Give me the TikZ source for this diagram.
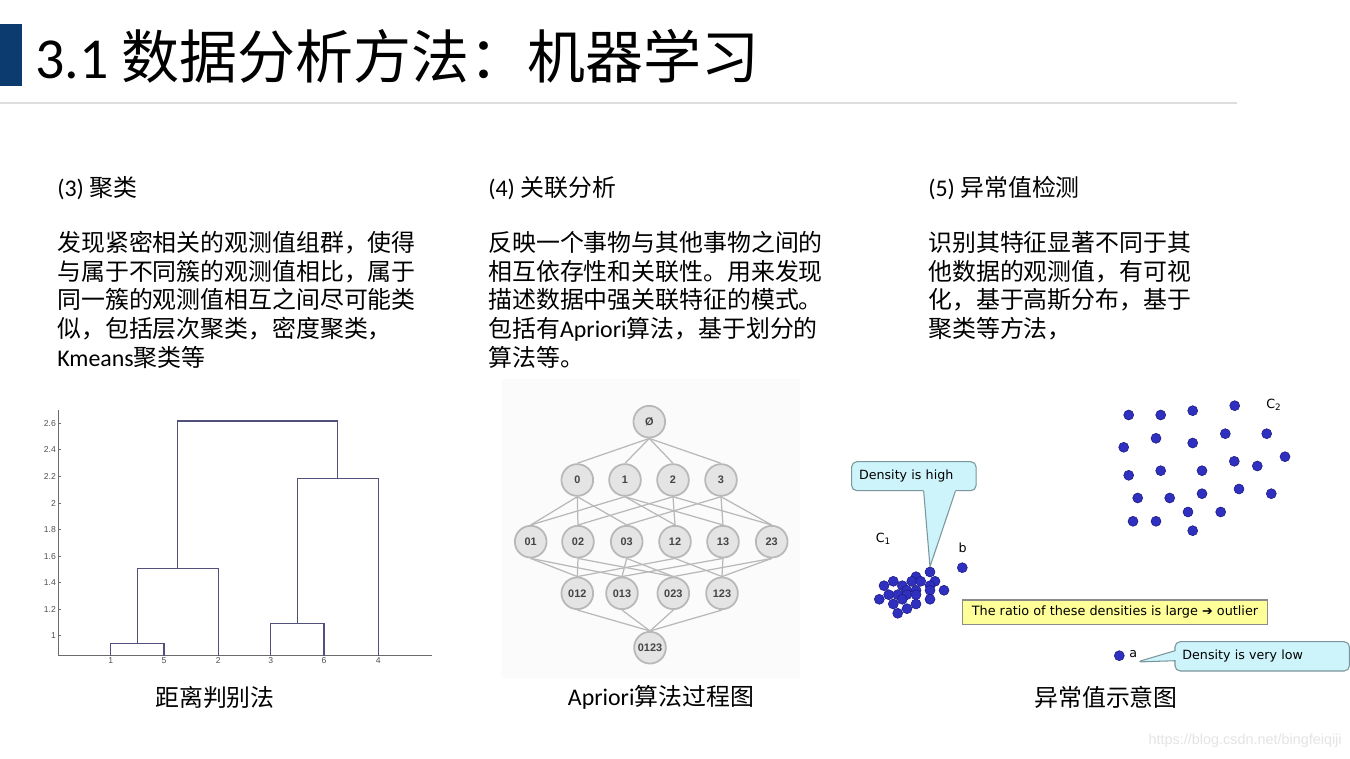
\documentclass[tikz,border=0pt]{standalone}
\usepackage{xcolor}
\usepackage{tikz}
\usepackage{fontspec}
\setmainfont{Noto Sans CJK SC}
\newfontfamily\latfont{Carlito}
\newfontfamily\labfont{DejaVu Sans}
\newfontfamily\axfont{Liberation Sans}
\usetikzlibrary{shapes.callouts}
\definecolor{TitleBar}   {HTML}{0B3B6F}
\definecolor{RuleGray}   {HTML}{DDDDDD}
\definecolor{TreeLine}   {HTML}{50507A}
\definecolor{AxisGray}   {HTML}{6A6A6A}
\definecolor{TickText}   {HTML}{505050}
\definecolor{SetFill}    {HTML}{E4E4E4}
\definecolor{SetEdge}    {HTML}{B8B8B8}
\definecolor{SetText}    {HTML}{444444}
\definecolor{LatticeBG}  {HTML}{FBFBFB}
\definecolor{DotBlue}    {HTML}{3030C0}
\definecolor{DotEdge}    {HTML}{1A1A80}
\definecolor{CallCyan}   {HTML}{CCF4FA}
\definecolor{CallEdge}   {HTML}{7A969C}
\definecolor{NoteYellow} {HTML}{FFFF99}
\definecolor{NoteEdge}   {HTML}{8C8C8C}
\definecolor{MarkGray}   {HTML}{E4E4E4}

\tikzset{
  bodytext/.style={anchor=north west,inner sep=0,align=left,
    font=\fontsize{13.6}{16.3}\selectfont},
  headtext/.style={anchor=west,inner sep=0,font=\fontsize{13.6}{16.3}\selectfont},
  captext/.style={inner sep=0,font=\fontsize{13.6}{16.3}\selectfont},
  treeline/.style={draw=TreeLine,line width=0.7pt},
  axisline/.style={draw=AxisGray,line width=0.5pt},
  ticklabel/.style={inner sep=1pt,text=TickText,font=\axfont\fontsize{4.9}{5}\selectfont},
  setnode/.style={circle,fill=SetFill,draw=SetEdge,line width=1pt,inner sep=0,
    minimum size=0.634cm,text=SetText,font=\axfont\bfseries\fontsize{6.2}{7}\selectfont},
  setedge/.style={draw=SetEdge,line width=0.7pt},
  dot/.style={circle,fill=DotBlue,draw=DotEdge,line width=0.3pt,inner sep=0,minimum size=0.2cm},
  ptlabel/.style={inner sep=0,font=\labfont\fontsize{7.2}{8}\selectfont},
  boxtext/.style={rounded corners=3pt,fill=CallCyan,draw=CallEdge,
    line width=0.6pt,inner xsep=0.15cm,inner ysep=0,align=left,
    font=\labfont\fontsize{7.2}{8}\selectfont},
  callbox/.style={rectangle callout,boxtext},
  notebox/.style={rectangle,fill=NoteYellow,draw=NoteEdge,line width=0.6pt,inner sep=0,
    font=\labfont\fontsize{7.3}{8}\selectfont}
}

\begin{document}
\begin{tikzpicture}[x=0.02cm,y=-0.02cm]
  \useasboundingbox[fill=white] (0,0) rectangle (1350,759);

  % title
  \fill[TitleBar] (0,24) rectangle (22,86);
  \node[anchor=west,inner sep=0,font=\fontsize{33}{40}\selectfont] (title) at (35,56)
    {{\latfont 3.1 }数据分析方法：机器学习};
  \draw[RuleGray,line width=0.8pt] (0,103) -- (1237,103);

  % three columns of text
  \node[headtext] (headA) at (57,188) {{\latfont (3) }聚类};
  \node[headtext] (headB) at (488,188) {{\latfont (4) }关联分析};
  \node[headtext] (headC) at (928,188) {{\latfont (5) }异常值检测};

  \node[bodytext] (textA) at (57,231) {%
    发现紧密相关的观测值组群，使得\\
    与属于不同簇的观测值相比，属于\\
    同一簇的观测值相互之间尽可能类\\
    似，包括层次聚类，密度聚类，\\
    {\latfont Kmeans}聚类等};
  \node[bodytext] (textB) at (488,231) {%
    反映一个事物与其他事物之间的\\
    相互依存性和关联性。用来发现\\
    描述数据中强关联特征的模式。\\
    包括有{\latfont Apriori}算法，基于划分的\\
    算法等。};
  \node[bodytext] (textC) at (928,231) {%
    识别其特征显著不同于其\\
    他数据的观测值，有可视\\
    化，基于高斯分布，基于\\
    聚类等方法，};

  % dendrogram
  \begin{scope}[shift={(0,768.45)},y=2.655cm]
    \draw[axisline] (58,2.70) -- (58,0.849) -- (431.7,0.849);
    \foreach \v in {1,1.2,1.4,1.6,1.8,2,2.2,2.4,2.6}{
      \draw[axisline] (58,\v) -- ++(3,0);
      \node[ticklabel,anchor=east] at (58,\v) {\v};
    }
    \foreach \x/\l in {110.7/1,164/5,218.3/2,270.7/3,324/6,378.3/4}
      \node[ticklabel,anchor=north] at (\x,0.849) {\l};
    \draw[treeline] (110.7,0.849) |- (164,0.94) -- (164,0.849);
    \draw[treeline] (137.3,0.94) |- (218.3,1.508) -- (218.3,0.849);
    \draw[treeline] (270.7,0.849) |- (324,1.093) -- (324,0.849);
    \draw[treeline] (297.3,1.093) |- (378.3,2.186) -- (378.3,0.849);
    \draw[treeline] (177.8,1.508) |- (337.8,2.617) -- (337.8,2.186);
  \end{scope}

  % apriori lattice
  \fill[LatticeBG] (502,379) rectangle (800,678);
  \node[setnode] (e) at (649.3,421.7) {Ø};
  \foreach \n/\x in {0/577.3,1/625,2/673,3/721}
    \node[setnode] (s\n) at (\x,480) {\n};
  \foreach \n/\x in {01/530.7,02/578,03/626.7,12/675,13/723,23/771.7}
    \node[setnode] (s\n) at (\x,541.7) {\n};
  \foreach \n/\x in {012/577.3,013/622,023/673.3,123/722}
    \node[setnode] (s\n) at (\x,593.3) {\n};
  \node[setnode] (s0123) at (650,647.7) {0123};
  \foreach \a/\b in {e/s0,e/s1,e/s2,e/s3,
      s0/s01,s0/s02,s0/s03,s1/s01,s1/s12,s1/s13,
      s2/s02,s2/s12,s2/s23,s3/s03,s3/s13,s3/s23,
      s01/s012,s01/s013,s02/s012,s02/s023,s03/s013,s03/s023,
      s12/s012,s12/s123,s13/s013,s13/s123,s23/s023,s23/s123,
      s012/s0123,s013/s0123,s023/s0123,s123/s0123}
    \draw[setedge] (\a.south) -- (\b.north);

  % outlier sketch
  \foreach \x/\y [count=\i] in {1128.7/415,1160.7/415,1192.7/410.7,1234.7/405.7,
      1156/438.3,1192.7/443,1225.3/433.7,1266.7/433.7,1123.7/447.3,1285/456.7,
      1234.3/461.3,1257.3/466,1128.7/475.3,1160.7/470.7,1202/470.7,1137.7/498,
      1169.7/498,1202/493.7,1239/489,1271.3/493.7,1188/512,1220.7/512,
      1133/521.3,1156/521.3,1192.7/530.7}
    \node[dot] (ctwo\i) at (\x,\y) {};
  \foreach \x/\y [count=\i] in {930/572,916/576.7,911.7/581.3,920.7/581.3,935/581.3,
      893.3/581.3,884/585.7,902.3/585.7,930/585.7,906.7/590.3,916/590.3,930/590.3,
      944/590.3,888.7/594.7,897.7/594.7,906.7/594.7,916/594.7,902.3/599.3,
      879.3/599.3,930/599.3,893.3/604,916/604,907/608.7,897.7/613.3}
    \node[dot] (cone\i) at (\x,\y) {};
  \node[dot] (b) at (962.3,567.7) {};
  \node[dot] (a) at (1119.3,655.7) {};

  \node[ptlabel] (ctwolab) at (1274,405) {C\textsubscript{2}};
  \node[ptlabel] (conelab) at (883.5,539) {C\textsubscript{1}};
  \node[ptlabel] (blab) at (962.7,547.3) {b};
  \node[ptlabel] (alab) at (1133.3,654.3) {a};
  \coordinate (atip) at (1137,662);

  \node[rectangle,boxtext,text width=2.19cm,minimum height=0.58cm]
    (high) at (913.85,476.2) {Density is high};
  \fill[CallCyan] ([xshift=1.452cm,yshift=0.6pt]high.south west)
    -- ([xshift=1.452cm]high.south west) -- (cone1.north)
    -- ([xshift=2.086cm]high.south west) -- ([xshift=2.086cm,yshift=0.6pt]high.south west)
    -- cycle;
  \draw[CallEdge,line width=0.6pt,line join=round] ([xshift=1.452cm]high.south west)
    -- (cone1.north) -- ([xshift=2.086cm]high.south west);
  \node[notebox,minimum width=6.108cm,minimum height=0.486cm]
    (ratio) at (1115,612.15) {The ratio of these densities is large ➔ outlier};
  \node[callbox,text width=3.19cm,minimum height=0.586cm,
        callout absolute pointer={(atip)},callout pointer width=0.2cm]
    (low) at (1262.2,656.35) {Density is very low};

  % captions
  \node[captext] (capA) at (215,697) {距离判别法};
  \node[captext] (capB) at (661,697) {{\latfont Apriori}算法过程图};
  \node[captext] (capC) at (1106,697) {异常值示意图};

  \node[anchor=east,inner sep=0,text=MarkGray,font=\axfont\fontsize{8.2}{9}\selectfont]
    (mark) at (1342,741) {https://blog.csdn.net/bingfeiqiji};
\end{tikzpicture}
\end{document}
